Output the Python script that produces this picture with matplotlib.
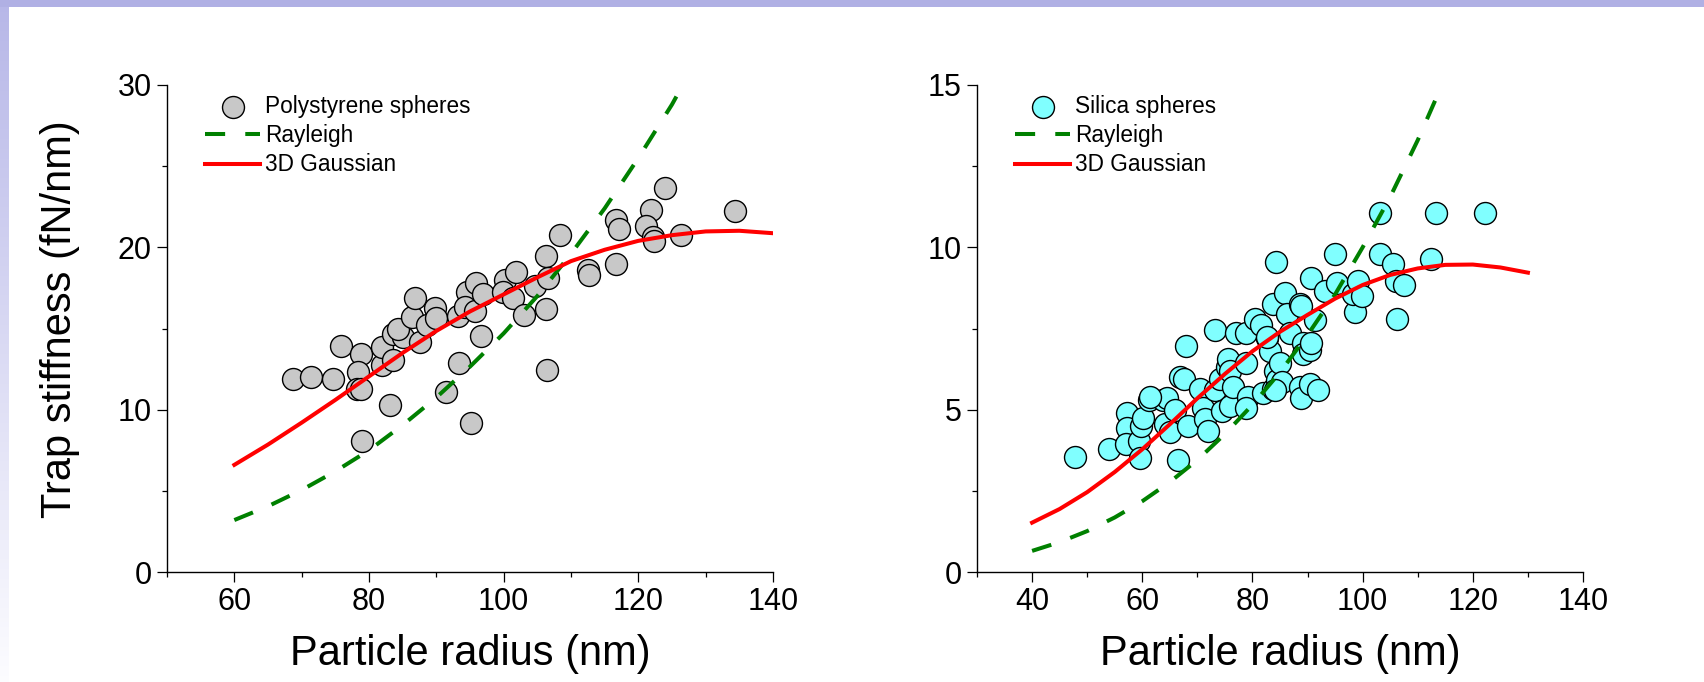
import numpy as np
import matplotlib
matplotlib.use("Agg")
import matplotlib.pyplot as plt
from matplotlib.ticker import MultipleLocator
from matplotlib.patches import Rectangle

plt.rcParams['font.family'] = ['Liberation Sans', 'DejaVu Sans']

# polystyrene data (radius nm, stiffness fN/nm)
ps_r = [68.7, 71.4, 74.6, 75.8, 78.75, 78.3, 78.2, 78.8, 79.0, 81.9, 81.9, 83.6, 83.05, 83.6,
        85.1, 84.3, 86.4, 86.9, 87.55, 88.55, 89.8, 90.0, 93.3, 91.45, 95.1, 93.2, 94.5, 94.2,
        95.9, 95.7, 96.95, 96.7, 100.2, 99.9, 101.9, 101.4, 104.6, 103.0, 106.35, 106.6, 106.35,
        106.4, 108.4, 112.5, 112.6, 116.7, 117.2, 116.7, 123.9, 121.9, 121.1, 122.2, 122.3,
        126.3, 134.3]
ps_k = [11.9, 12.0, 11.9, 13.9, 13.4, 12.3, 11.3, 11.3, 8.1, 12.75, 13.85, 13.05, 10.3, 14.65,
        14.45, 15.0, 15.7, 16.9, 14.15, 15.2, 16.25, 15.65, 12.85, 11.1, 9.15, 15.75, 17.25, 16.35,
        17.8, 16.05, 17.15, 14.55, 18.0, 17.25, 18.5, 16.85, 17.6, 15.85, 19.45, 18.1, 16.2,
        12.45, 20.75, 18.6, 18.3, 21.7, 21.1, 18.95, 23.65, 22.3, 21.3, 20.65, 20.4,
        20.75, 22.25]

# silica data
si_r = [47.8, 53.9, 57.2, 57.2, 57.0, 59.4, 59.5, 59.7, 60.2, 61.3, 63.8, 64.4, 64.2, 65.0,
        65.9, 66.8, 67.5, 67.9, 66.5, 68.3, 70.5, 71.1, 71.4, 72.0, 73.2, 74.1, 74.5, 73.2,
        75.3, 75.6, 75.9, 75.9, 76.5, 77.1, 78.9, 78.9, 79.2, 78.9, 80.5, 81.5, 82.6, 83.2,
        82.0, 83.7, 84.1, 84.4, 85.0, 85.3, 83.7, 84.3, 85.9, 86.2, 86.8, 88.6, 88.6, 88.9,
        90.4, 91.9, 89.2, 89.2, 90.4, 90.7, 91.3, 90.6, 93.1, 95.0, 95.3, 98.6, 98.3, 99.2,
        99.8, 103.2, 113.3, 122.3, 103.2, 105.5, 112.4, 106.0, 107.5, 106.3, 88.9, 61.4,
        84.05, 82.55]
si_k = [3.55, 3.8, 4.9, 4.45, 3.95, 4.05, 3.5, 4.5, 4.75, 5.3, 5.3, 5.35, 4.55, 4.3,
        5.0, 6.0, 5.95, 6.95, 3.45, 4.5, 5.65, 5.05, 4.7, 4.35, 5.6, 5.95, 4.95, 7.45,
        6.3, 6.55, 6.2, 5.1, 5.7, 7.35, 7.35, 6.45, 5.4, 5.05, 7.8, 7.6, 7.2, 6.8,
        5.5, 5.65, 6.2, 5.9, 6.45, 5.85, 8.25, 9.55, 8.6, 7.95, 7.35, 8.25, 5.7, 5.35,
        5.8, 5.6, 7.05, 6.7, 6.85, 7.05, 7.75, 9.05, 8.65, 9.8, 8.9, 8.0, 8.55, 8.95,
        8.5, 11.05, 11.05, 11.05, 9.8, 9.5, 9.65, 8.95, 8.85, 7.8, 8.2, 5.4,
        5.6, 7.25]

# model curves
ps_ray_r = [60, 65, 70, 75, 80, 85, 90, 95, 100, 105, 110, 115, 120, 125, 126.6]
ps_ray_k = [3.2, 4.05, 5.05, 6.2, 7.5, 9.05, 10.75, 12.65, 14.7, 17.0, 19.6, 22.4, 25.5, 28.8, 30.0]
ps_gau_r = [60, 65, 70, 75, 80, 85, 90, 95, 100, 105, 110, 115, 120, 125, 130, 135, 140]
ps_gau_k = [6.6, 7.85, 9.2, 10.6, 12.05, 13.5, 14.85, 16.05, 17.1, 18.15, 19.15, 19.85, 20.4,
            20.75, 20.98, 21.02, 20.87]

si_ray_r = [40, 45, 50, 55, 60, 65, 70, 75, 80, 85, 90, 95, 100, 105, 110, 114.4]
si_ray_k = [0.65, 0.92, 1.26, 1.68, 2.18, 2.77, 3.45, 4.25, 5.15, 6.15, 7.3, 8.55, 10.0, 11.55,
            13.3, 15.0]
si_gau_r = [40, 45, 50, 55, 60, 65, 70, 75, 80, 85, 90, 95, 100, 105, 110, 115, 120, 125, 130]
si_gau_k = [1.52, 1.94, 2.46, 3.08, 3.78, 4.55, 5.35, 6.1, 6.8, 7.4, 7.92, 8.42, 8.84, 9.15,
            9.35, 9.46, 9.47, 9.38, 9.22]

fig = plt.figure(figsize=(17.04, 6.82), dpi=100)

# slide decoration: top bar and fading left bar
fig.patches.append(Rectangle((0, 1 - 7 / 682), 1, 7 / 682, transform=fig.transFigure,
                             facecolor='#b0b0e4', edgecolor='none', zorder=0))
band = fig.add_axes([0, 0, 9 / 1704, 1 - 7 / 682])
grad = np.linspace(0, 1, 256).reshape(-1, 1)
top_c = np.array([0.72, 0.72, 0.91])
bot_c = np.array([0.99, 0.99, 1.0])
img = top_c[None, None, :] * (1 - grad[:, :, None]) + bot_c[None, None, :] * grad[:, :, None]
band.imshow(img, aspect='auto', extent=[0, 1, 0, 1])
band.axis('off')

ax1 = fig.add_axes([167 / 1704, 1 - 572 / 682, 606 / 1704, 487 / 682])
ax2 = fig.add_axes([977 / 1704, 1 - 572 / 682, 606 / 1704, 487 / 682])


def style(ax, xlim, ylim, xmaj, ymaj):
    ax.set_xlim(*xlim)
    ax.set_ylim(*ylim)
    ax.xaxis.set_major_locator(MultipleLocator(xmaj))
    ax.xaxis.set_minor_locator(MultipleLocator(xmaj / 2))
    ax.yaxis.set_major_locator(MultipleLocator(ymaj))
    ax.yaxis.set_minor_locator(MultipleLocator(ymaj / 2))
    ax.spines['top'].set_visible(False)
    ax.spines['right'].set_visible(False)
    for s in ['left', 'bottom']:
        ax.spines[s].set_linewidth(1.0)
    ax.tick_params(which='major', direction='out', length=7, width=0.9, labelsize=22, pad=4)
    ax.tick_params(which='minor', direction='out', length=3.6, width=0.9)
    ax.set_xlabel("Particle radius (nm)", fontsize=30)
    ax.xaxis.set_label_coords(0.5, -0.128)
    ax.patch.set_alpha(0)


def panel(ax, r, k, color, name, ray_r, ray_k, gau_r, gau_k):
    ax.scatter(r, k, s=250, facecolor=color, edgecolor='black', linewidth=1.0, zorder=2,
               label=name)
    ax.plot(ray_r, ray_k, color='#008000', lw=2.9, linestyle=(0, (5, 5)), zorder=3,
            label="Rayleigh")
    ax.plot(gau_r, gau_k, color='#ff0000', lw=2.9, zorder=3, label="3D Gaussian")
    ax.legend(loc='upper left', bbox_to_anchor=(0.063, 0.979), frameon=False, fontsize=16.3,
              borderpad=0, borderaxespad=0, handlelength=2.43, handletextpad=0.23,
              labelspacing=0.27)


panel(ax1, ps_r, ps_k, '#c8c8c8', "Polystyrene spheres", ps_ray_r, ps_ray_k, ps_gau_r, ps_gau_k)
panel(ax2, si_r, si_k, '#80ffff', "Silica spheres", si_ray_r, si_ray_k, si_gau_r, si_gau_k)

style(ax1, (50, 140), (0, 30), 20, 10)
style(ax2, (30, 140), (0, 15), 20, 5)

ax1.set_ylabel("Trap stiffness (fN/nm)", fontsize=30)
ax1.yaxis.set_label_coords(-0.1436, 0.52)

fig.savefig("out.png", dpi=100)
